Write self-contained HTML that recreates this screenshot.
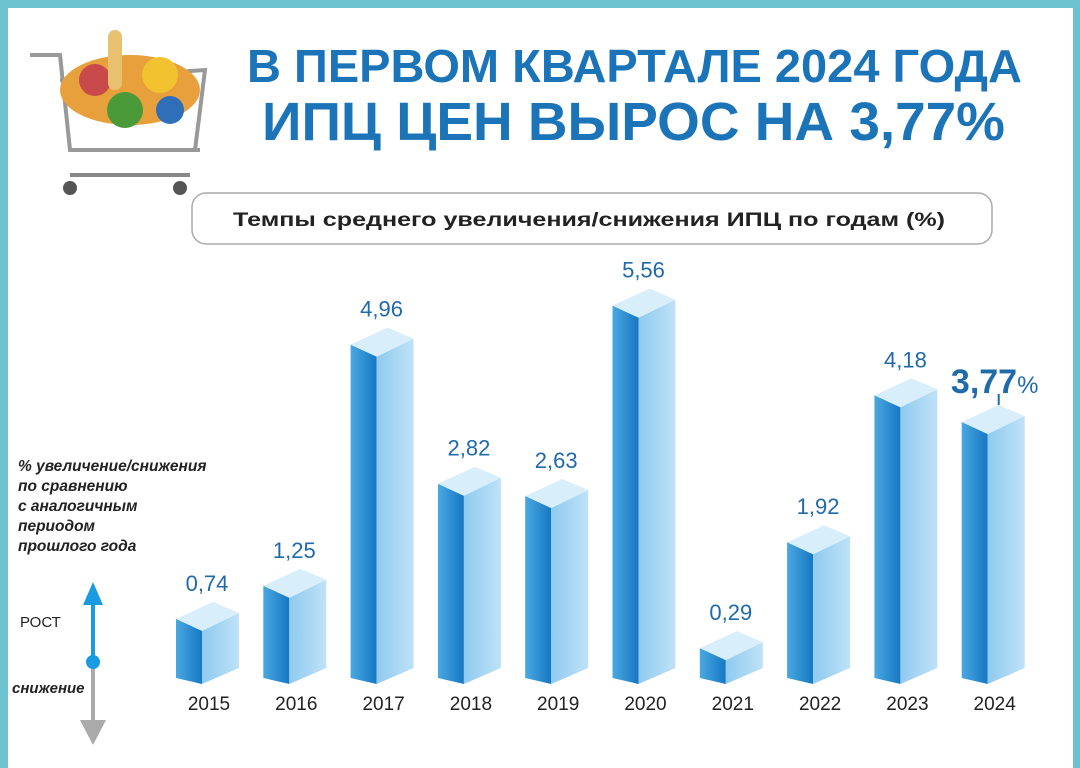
<!DOCTYPE html>
<html><head><meta charset="utf-8"><style>
body{margin:0;width:1080px;height:754px;overflow:hidden;background:#6cc3cf;font-family:"Liberation Sans",sans-serif}
#frame{position:absolute;left:8px;top:8px;width:1065px;height:760px;background:#fff}
svg{position:absolute;left:0;top:0}
</style></head><body>
<div id="frame"></div>
<svg width="1080" height="754">
<defs>
<linearGradient id="dk" x1="0" x2="1"><stop offset="0" stop-color="#4aa8e0"/><stop offset="1" stop-color="#1677c4"/></linearGradient>
<linearGradient id="lt" x1="0" x2="1"><stop offset="0" stop-color="#8fcaef"/><stop offset="1" stop-color="#bfe2f7"/></linearGradient>
</defs>
<g>
<path d="M30 55 L60 55 L70 150 L200 150 M60 80 L205 70 L195 150" stroke="#999" stroke-width="4" fill="none"/>
<path d="M70 175 L190 175" stroke="#888" stroke-width="4"/>
<circle cx="70" cy="188" r="7" fill="#555"/><circle cx="180" cy="188" r="7" fill="#555"/>
<ellipse cx="130" cy="90" rx="70" ry="35" fill="#e8a03c"/>
<circle cx="95" cy="80" r="16" fill="#c94a4a"/><circle cx="160" cy="75" r="18" fill="#f2c230"/>
<rect x="108" y="30" width="14" height="60" rx="7" fill="#e7c070"/>
<circle cx="125" cy="110" r="18" fill="#4a9a3a"/><circle cx="170" cy="110" r="14" fill="#2e6fb8"/>
</g>
<text x="247" y="82" textLength="775" lengthAdjust="spacingAndGlyphs" font-size="46" font-weight="bold" fill="#1b73b8">В ПЕРВОМ КВАРТАЛЕ 2024 ГОДА</text>
<text x="262" y="140" textLength="743" lengthAdjust="spacingAndGlyphs" font-size="54" font-weight="bold" fill="#1b73b8">ИПЦ ЦЕН ВЫРОС НА 3,77%</text>
<rect x="192" y="193" width="800" height="51" rx="14" fill="#fff" stroke="#aaa" stroke-width="1.5"/>
<text x="233" y="226" textLength="712" lengthAdjust="spacingAndGlyphs" font-size="19" font-weight="bold" fill="#222">Темпы среднего увеличения/снижения ИПЦ по годам (%)</text>
<g font-size="15.5" font-weight="bold" font-style="italic" fill="#222">
<text x="18" y="471">% увеличение/снижения</text><text x="18" y="491">по сравнению</text><text x="18" y="511">с аналогичным</text><text x="18" y="531">периодом</text><text x="18" y="551">прошлого года</text>
</g>
<text x="20" y="627" font-size="15" fill="#222">РОСТ</text>
<text x="12" y="693" font-size="15" font-weight="bold" font-style="italic" fill="#222">снижение</text>
<line x1="93" y1="600" x2="93" y2="662" stroke="#1a9ae0" stroke-width="4"/>
<path d="M83 605 L93 582 L103 605Z" fill="#1a9ae0"/>
<line x1="93" y1="662" x2="93" y2="725" stroke="#aaa" stroke-width="4"/>
<path d="M80 720 L93 745 L106 720Z" fill="#aaa"/>
<circle cx="93" cy="662" r="7" fill="#1a9ae0"/>
<g id="bars"></g>
</svg>
<script>
const years=["2015","2016","2017","2018","2019","2020","2021","2022","2023","2024"];
const values=[0.74,1.25,4.96,2.82,2.63,5.56,0.29,1.92,4.18,3.77];
const labels=["0,74","1,25","4,96","2,82","2,63","5,56","0,29","1,92","4,18","3,77"];
const NS="http://www.w3.org/2000/svg";
const g=document.getElementById('bars');
const xPos=i=>176+i*87.3;
const yPos=v=>667-65*v;
function mk(tag,a){const e=document.createElementNS(NS,tag);for(const k in a)e.setAttribute(k,a[k]);g.appendChild(e);return e;}
values.forEach((v,i)=>{
 const x=xPos(i),t=yPos(v);
 let e=mk('polygon',{points:`${x},${t} ${x+26},${t+12} ${x+26},684 ${x},678`,fill:'url(#dk)'});
 
 
 e=mk('polygon',{points:`${x+26},${t+12} ${x+63},${t-6} ${x+63},668 ${x+26},684`,fill:'url(#lt)'});
 
 
 e=mk('polygon',{points:`${x},${t} ${x+26},${t+12} ${x+63},${t-6} ${x+37},${t-17}`,fill:'#d8effb'});
 
 
 e=mk('text',{x:x+33,y:710,'text-anchor':'middle','font-size':'19',fill:'#222'});
 e.textContent=years[i];
 
 
 if(i<9){
  e=mk('text',{x:x+31,y:t-28,'text-anchor':'middle','font-size':'22',fill:'#1f6aaa'});
  e.textContent=labels[i];
 }else{
  mk('line',{x1:x+37,y1:t-17,x2:x+37,y2:t-28,stroke:'#1f6aaa','stroke-width':2});
  e=mk('text',{x:x+33,y:t-29,'text-anchor':'middle','font-size':'34',fill:'#1f6aaa','font-weight':'bold'});
  e.innerHTML=labels[i]+'<tspan font-size="24" font-weight="normal">%</tspan>';
 }
 
 
});
</script>
</body></html>
